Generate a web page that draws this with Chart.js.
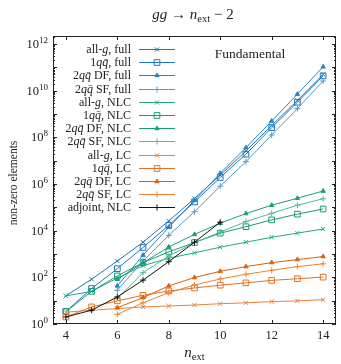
<!DOCTYPE html>
<html>
<head>
<meta charset="utf-8">
<script src="https://cdn.jsdelivr.net/npm/chart.js@4.4.1/dist/chart.umd.min.js"></script>
<style>
  html, body { margin: 0; padding: 0; background: #fff; }
  #wrap { width: 341px; height: 364px; position: relative; }
</style>
</head>
<body>
<div id="wrap"><canvas id="nzChart"></canvas></div>
<script>
// ============================
// DATA
// ============================
const nExt    = [4, 5, 6, 7, 8, 9, 10, 11, 12, 13, 14];
const nExt2q  = [6, 7, 8, 9, 10, 11, 12, 13, 14];
const nExtAdj = [4, 5, 6, 7, 8, 9, 10];

const allgFull   = [16, 83, 500, 3.2e3, 2.6e4, 2.4e5, 2.4e6, 2.6e7, 3.2e8, 3.8e9, 5.0e10];
const oneqFull   = [3.4, 33, 234, 1.9e3, 1.7e4, 1.7e5, 1.9e6, 1.9e7, 2.6e8, 3.2e9, 4.3e10];
const twoqDfFull = [43, 890, 1.4e4, 2.0e5, 2.9e6, 3.6e7, 5.0e8, 7.1e9, 1.05e11];
const twoqSfFull = [28, 500, 6.3e3, 6.5e4, 8.1e5, 9.1e6, 1.26e8, 1.7e9, 2.6e10];

const allgNlc    = [16, 25, 93, 316, 660, 1.12e3, 1.95e3, 3.2e3, 5.2e3, 7.9e3, 1.17e4];
const oneqNlc    = [3.4, 25, 115, 427, 1.23e3, 3.1e3, 7.8e3, 1.48e4, 2.9e4, 5.1e4, 8.5e4];
const twoqDfNlc  = [83, 417, 2.0e3, 6.9e3, 2.1e4, 5.4e4, 1.23e5, 2.45e5, 5.0e5];
const twoqSfNlc  = [12.6, 158, 813, 3.1e3, 8.7e3, 2.45e4, 5.5e4, 1.23e5, 2.34e5];

const allgLc     = [3.2, 3.9, 4.6, 5.4, 5.9, 6.5, 7.4, 8.1, 9.1, 9.8, 11];
const oneqLc     = [2, 5.4, 9.8, 17, 26, 35, 46, 58, 74, 87, 102];
const twoqDfLc   = [5, 13.5, 43, 98, 182, 288, 427, 575, 776];
const twoqSfLc   = [2.6, 8.1, 22, 47, 85, 135, 200, 288, 380];

const adjointNlc = [2, 3.9, 14.5, 76, 468, 3.2e3, 2.3e4];

const xTicks   = [4, 6, 8, 10, 12, 14];
const yTickExp = [0, 2, 4, 6, 8, 10, 12];

// ============================
// FONTS / HELPERS
// ============================
const SERIF = '"Liberation Serif", "DejaVu Serif", serif';
const font = (size, italic) => (italic ? 'italic ' : '') + size + 'px ' + SERIF;

function richWidth(ctx, segs) {
    let w = 0;
    for (const s of segs) { ctx.font = s.font; w += ctx.measureText(s.t).width; }
    return w;
}
function drawRich(ctx, segs, x, y, align) {
    const w = richWidth(ctx, segs);
    let cx = align === 'right' ? x - w : align === 'center' ? x - w / 2 : x;
    ctx.textAlign = 'left';
    ctx.textBaseline = 'alphabetic';
    for (const s of segs) {
        ctx.font = s.font;
        ctx.fillText(s.t, cx, y + (s.dy || 0));
        cx += ctx.measureText(s.t).width;
    }
}
// legend label: prefix, math part (italic), suffix
const lab = (pre, math, post) => [
    { t: pre, font: font(12) },
    { t: math, font: font(12, true) },
    { t: post, font: font(12) }
];
const QQ = 'q' + 'q\u0304';

// ============================
// SERIES
// ============================
const series = [
    { segs: lab('all-', 'g', ', full'),    xs: nExt,   ys: allgFull,   color: '#1f74b4', style: 'crossRot', r: 3 },
    { segs: lab('1', QQ, ', full'),        xs: nExt,   ys: oneqFull,   color: '#1f78b8', style: 'rect',     r: 4 },
    { segs: lab('2', QQ, ' DF, full'),     xs: nExt2q, ys: twoqDfFull, color: '#2a82c2', style: 'triangle', r: 2.5 },
    { segs: lab('2', QQ, ' SF, full'),     xs: nExt2q, ys: twoqSfFull, color: '#4d9bd2', style: 'cross',    r: 3 },
    { segs: lab('all-', 'g', ', NLC'),     xs: nExt,   ys: allgNlc,    color: '#22a985', style: 'crossRot', r: 3 },
    { segs: lab('1', QQ, ', NLC'),         xs: nExt,   ys: oneqNlc,    color: '#189c76', style: 'rect',     r: 4 },
    { segs: lab('2', QQ, ' DF, NLC'),      xs: nExt2q, ys: twoqDfNlc,  color: '#1a9e78', style: 'triangle', r: 2.5 },
    { segs: lab('2', QQ, ' SF, NLC'),      xs: nExt2q, ys: twoqSfNlc,  color: '#4cbb95', style: 'cross',    r: 3 },
    { segs: lab('all-', 'g', ', LC'),      xs: nExt,   ys: allgLc,     color: '#e8823e', style: 'crossRot', r: 3 },
    { segs: lab('1', QQ, ', LC'),          xs: nExt,   ys: oneqLc,     color: '#e5711f', style: 'rect',     r: 4 },
    { segs: lab('2', QQ, ' DF, LC'),       xs: nExt2q, ys: twoqDfLc,   color: '#d8600f', style: 'triangle', r: 2.5 },
    { segs: lab('2', QQ, ' SF, LC'),       xs: nExt2q, ys: twoqSfLc,   color: '#ee8433', style: 'cross',    r: 3 },
    { segs: [{ t: 'adjoint, NLC', font: font(12) }], xs: nExtAdj, ys: adjointNlc, color: '#111111', style: 'cross', r: 3 }
];

const datasets = series.map((s, i) => ({
    label: s.segs.map(p => p.t).join(''),
    data: s.xs.map((x, k) => ({ x: x, y: s.ys[k] })),
    borderColor: s.color,
    backgroundColor: s.style === 'rect' ? 'rgba(255,255,255,0)' : s.color,
    pointBorderColor: s.color,
    pointBackgroundColor: s.style === 'rect' ? 'rgba(255,255,255,0)' : s.color,
    pointStyle: s.style,
    pointRadius: s.r,
    pointBorderWidth: 1,
    borderWidth: 1,
    tension: 0,
    fill: false,
    order: 20 - i
}));

// ============================
// DECORATION PLUGIN (frame, ticks, labels, legend)
// ============================
const decor = {
    id: 'decor',
    afterDraw(chart) {
        const ctx = chart.ctx;
        const a = chart.chartArea;
        const xs = chart.scales.x, ys = chart.scales.y;
        ctx.save();
        ctx.strokeStyle = '#222';
        ctx.fillStyle = '#222';
        ctx.lineWidth = 1;

        // frame
        ctx.strokeRect(a.left + 0.5, a.top + 0.5, a.right - a.left - 1, a.bottom - a.top - 1);

        // x ticks, bottom and top, pointing in
        ctx.beginPath();
        for (const v of xTicks) {
            const px = Math.round(xs.getPixelForValue(v)) + 0.5;
            ctx.moveTo(px, a.bottom); ctx.lineTo(px, a.bottom - 4);
            ctx.moveTo(px, a.top); ctx.lineTo(px, a.top + 4);
        }
        // y ticks, left and right (major + minor)
        for (let k = 0; k <= 12; k++) {
            for (let m = 1; m <= 9; m++) {
                const v = m * Math.pow(10, k);
                if (v > ys.max) continue;
                const py = Math.round(ys.getPixelForValue(v)) + 0.5;
                const len = m === 1 ? 4 : 2;
                ctx.moveTo(a.left, py); ctx.lineTo(a.left + len, py);
                ctx.moveTo(a.right, py); ctx.lineTo(a.right - len, py);
            }
        }
        ctx.stroke();

        // y tick labels 10^k
        for (const e of yTickExp) {
            const py = ys.getPixelForValue(Math.pow(10, e));
            drawRich(ctx, [
                { t: '10', font: font(12.5) },
                { t: String(e), font: font(9), dy: -5 }
            ], a.left - 5, py + 4, 'right');
        }

        // axis titles
        drawRich(ctx, [
            { t: 'n', font: font(15, true) },
            { t: 'ext', font: font(10.5), dy: 3 }
        ], (a.left + a.right) / 2, 357, 'center');

        ctx.save();
        ctx.translate(14, (a.top + a.bottom) / 2 + 3);
        ctx.rotate(-Math.PI / 2);
        ctx.font = font(11.5);
        ctx.textAlign = 'center';
        ctx.textBaseline = 'middle';
        ctx.fillText('non-zero elements', 0, 0);
        ctx.restore();

        // title
        drawRich(ctx, [
            { t: 'gg', font: font(15, true) },
            { t: ' \u2192 ', font: font(15) },
            { t: 'n', font: font(15, true) },
            { t: 'ext', font: font(10.5), dy: 3 },
            { t: ' \u2212 2', font: font(15) }
        ], 193, 19, 'center');

        // panel label
        drawRich(ctx, [{ t: 'Fundamental', font: font(13.5) }], 250, 58, 'center');

        // legend: text right-aligned, sample line on the right
        const textRight = 131, lineL = 139, lineR = 175, y0 = 49, dy = 13.2;
        series.forEach((s, i) => {
            const y = y0 + i * dy;
            ctx.fillStyle = '#222';
            drawRich(ctx, s.segs, textRight, y + 4, 'right');
            ctx.strokeStyle = s.color;
            ctx.fillStyle = s.style === 'rect' ? 'rgba(255,255,255,0)' : s.color;
            ctx.lineWidth = 1;
            ctx.beginPath();
            ctx.moveTo(lineL, Math.round(y) + 0.5);
            ctx.lineTo(lineR, Math.round(y) + 0.5);
            ctx.stroke();
            Chart.helpers.drawPoint(ctx, {
                pointStyle: s.style, rotation: 0, radius: s.r, borderWidth: 1
            }, (lineL + lineR) / 2, Math.round(y) + 0.5);
        });
        ctx.restore();
    }
};

// ============================
// CHART
// ============================
new Chart(document.getElementById('nzChart'), {
    type: 'line',
    data: { datasets: datasets },
    options: {
        responsive: true,
        maintainAspectRatio: false,
        devicePixelRatio: 1,
        animation: false,
        layout: { padding: { top: 36, right: 1, left: 0, bottom: 0 } },
        plugins: {
            legend: { display: false },
            tooltip: { enabled: false },
            title: { display: false }
        },
        scales: {
            x: {
                type: 'linear',
                min: 3.5,
                max: 14.5,
                afterBuildTicks: (s) => { s.ticks = xTicks.map(v => ({ value: v })); },
                afterFit: (s) => { s.height = 40; },
                grid: { display: false, drawTicks: false },
                border: { display: false },
                ticks: {
                    padding: 4,
                    color: '#222',
                    font: { family: SERIF, size: 12.5 },
                    maxRotation: 0
                }
            },
            y: {
                type: 'logarithmic',
                min: 1,
                max: 2.2e12,
                afterFit: (s) => { s.width = 53; },
                grid: { display: false, drawTicks: false },
                border: { display: false },
                ticks: { display: false }
            }
        }
    },
    plugins: [decor]
});
</script>
</body>
</html>
